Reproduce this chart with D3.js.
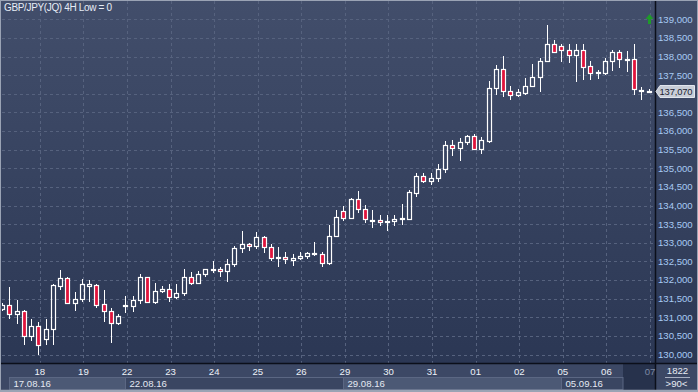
<!DOCTYPE html>
<html><head><meta charset="utf-8">
<script src="https://cdn.jsdelivr.net/npm/d3@7"></script>
<style>
html,body{margin:0;padding:0;background:#3a4662;overflow:hidden}
svg{display:block}
text{font-family:Arial,"Liberation Sans",sans-serif}
</style>
</head><body>
<svg id="c" width="698" height="392"></svg>
<script>
const title = "GBP/JPY(JQ) 4H Low = 0";
const opens = [131.216,131.323,131.100,131.162,130.498,130.759,130.423,130.697,131.842,132.041,
131.385,131.503,131.842,131.861,131.369,131.170,130.848,131.302,131.304,131.476,
132.068,131.412,131.708,131.772,131.546,131.638,132.084,131.922,132.148,132.272,
132.309,132.237,132.417,132.847,132.954,132.909,133.142,132.890,132.586,132.605,
132.532,132.578,132.640,132.694,132.694,132.444,133.191,133.849,133.669,134.163,
133.895,133.594,133.607,133.553,133.580,133.629,133.634,134.341,134.790,134.663,
134.728,134.970,135.622,135.534,135.695,135.864,135.507,135.743,137.146,137.657,
137.081,136.958,137.028,137.208,137.442,137.888,138.328,138.291,138.167,138.033,
138.167,137.745,137.557,137.549,137.888,138.113,137.912,137.925,137.087,137.060];
const highs = [131.377,131.815,131.458,131.189,130.947,130.867,130.947,131.906,132.264,132.084,
131.665,132.022,131.995,131.888,131.726,131.251,131.081,131.565,131.565,132.148,
132.084,131.933,131.834,131.888,131.906,132.309,132.218,132.245,132.291,132.506,
132.352,132.551,132.909,133.312,132.981,133.277,133.177,132.954,132.874,132.755,
132.694,132.739,132.739,133.008,132.755,133.473,133.876,133.983,134.190,134.386,
134.010,133.876,133.742,133.742,133.742,134.037,134.413,134.878,134.862,134.878,
135.112,135.730,135.757,135.802,135.891,135.918,135.846,137.342,137.772,138.014,
137.208,137.119,137.415,137.791,137.952,138.847,138.444,138.336,138.336,138.336,
138.328,137.880,137.638,137.952,138.175,138.175,138.148,138.336,137.189,137.119];
const lows = [131.162,130.947,130.832,130.262,130.375,129.999,130.267,130.267,131.726,131.369,
131.170,131.412,131.412,131.251,130.875,130.321,130.786,131.116,131.143,131.369,
131.385,131.369,131.638,131.412,131.484,131.565,131.853,131.880,132.068,132.191,
132.084,131.949,132.352,132.729,132.782,132.820,132.729,132.514,132.352,132.425,
132.379,132.532,132.551,132.640,132.352,132.398,133.177,133.588,133.653,133.787,
133.518,133.400,133.446,133.320,133.446,133.473,133.607,134.233,134.610,134.548,
134.636,134.878,135.327,135.201,135.622,135.488,135.373,135.668,136.966,136.904,
136.832,136.904,136.966,137.189,137.055,137.870,138.086,137.861,137.834,137.323,
137.369,137.369,137.396,137.503,137.619,137.683,137.592,136.966,136.832,137.020];
const closes = [131.323,131.100,131.162,130.498,130.759,130.267,130.697,131.861,132.041,131.385,
131.503,131.880,131.880,131.342,131.170,130.848,131.028,131.329,131.476,132.068,
131.412,131.708,131.772,131.546,131.638,132.084,131.922,132.148,132.283,132.299,
132.237,132.417,132.847,132.954,132.909,133.142,132.890,132.594,132.613,132.551,
132.578,132.640,132.712,132.720,132.444,133.191,133.696,133.669,134.163,133.895,
133.626,133.621,133.545,133.580,133.634,133.656,134.368,134.790,134.655,134.728,
134.970,135.622,135.534,135.695,135.864,135.507,135.757,137.146,137.657,137.081,
136.958,137.039,137.208,137.442,137.888,138.328,138.113,138.167,138.033,138.167,
137.710,137.549,137.584,137.888,138.113,137.925,137.939,137.119,137.106,137.070];
const dayLabels = ["18","19","22","23","24","25","26","29","30","31","01","02","05","06","07"];
const dayStartIdx = [5,11,17,23,29,35,41,47,53,59,65,71,77,83,89];
const weekLabels = ["17.08.16","22.08.16","29.08.16","05.09.16"];
const weekStartIdx = [1,17,47,77];
const priceTicks = [130,130.5,131,131.5,132,132.5,133,133.5,134,134.5,135,135.5,136,136.5,137,137.5,138,138.5,139];
const lastPrice = 137.070;
const infoTop = "1822", infoBottom = ">90<";

const data = opens.map((o,i)=>({i, o, h:highs[i], l:lows[i], c:closes[i]}));
const svg = d3.select("#c");
const W=698, H=392, plotR=655, plotB=363;
const fmt = v => v.toFixed(3).replace(".", ",");

const x = d3.scaleLinear().domain([0,89]).range([2,648.5]);
const y = d3.scaleLinear().domain([130,139]).range([354.5,19.3]);

const defs = svg.append("defs");
const g = defs.append("linearGradient").attr("id","bg").attr("x1",0).attr("y1",0).attr("x2",0).attr("y2",1);
g.append("stop").attr("offset","0%").attr("stop-color","#424e6b");
g.append("stop").attr("offset","100%").attr("stop-color","#2b3754");
defs.append("clipPath").attr("id","clip").append("rect").attr("x",2).attr("y",1).attr("width",plotR-2).attr("height",plotB-1);

svg.append("rect").attr("x",0).attr("y",0).attr("width",W).attr("height",plotB).attr("fill","url(#bg)");

// grid
const grid = svg.append("g").attr("clip-path","url(#clip)").attr("stroke","#56627e").attr("stroke-dasharray","3,3").attr("stroke-width",1);
grid.selectAll("line.h").data(priceTicks).join("line")
  .attr("x1",2).attr("x2",plotR).attr("y1",d=>Math.round(y(d))+0.5).attr("y2",d=>Math.round(y(d))+0.5);
grid.selectAll("line.v").data(dayStartIdx).join("line")
  .attr("y1",1).attr("y2",plotB).attr("x1",d=>Math.round(x(d)+1.5)+0.5).attr("x2",d=>Math.round(x(d)+1.5)+0.5);

// candles
const cg = svg.append("g").attr("clip-path","url(#clip)");
data.forEach(d=>{
  const c = Math.round(x(d.i));
  const top = Math.round(y(Math.max(d.o,d.c)));
  let bot = Math.round(y(Math.min(d.o,d.c)));
  if (bot-top < 1) bot = top+1;
  const yh = Math.round(y(d.h)), yl = Math.round(y(d.l));
  const bull = d.c >= d.o;
  if (yh < top) cg.append("line").attr("x1",c+0.5).attr("x2",c+0.5).attr("y1",yh).attr("y2",top).attr("stroke","#fff");
  if (yl > bot) cg.append("line").attr("x1",c+0.5).attr("x2",c+0.5).attr("y1",bot).attr("y2",yl).attr("stroke","#fff");
  cg.append("rect").attr("x",c-1.5).attr("y",top+0.5).attr("width",4).attr("height",bot-top)
    .attr("fill", bull ? "none" : "#e0143c").attr("stroke","#fff").attr("stroke-width",1.2);
});

// right axis labels
const ly = y(lastPrice);
svg.append("g").selectAll("text").data(priceTicks.filter(v=>Math.abs(y(v)-ly)>9)).join("text")
  .attr("x",658).attr("y",d=>y(d)).attr("dy","0.35em")
  .attr("font-size","9.6px").attr("fill","#a8caf4").text(fmt);

// black separators
svg.append("line").attr("x1",plotR+0.5).attr("x2",plotR+0.5).attr("y1",0).attr("y2",390).attr("stroke","#0b0f1a").attr("stroke-width",1.5);

// bottom strip
svg.append("rect").attr("x",0).attr("y",plotB).attr("width",W).attr("height",H-plotB).attr("fill","#3c4865");
svg.append("rect").attr("x",Math.round(x(89))-26).attr("y",plotB+1).attr("width",plotR-(Math.round(x(89))-26)).attr("height",26).attr("fill","#27324c");
svg.append("line").attr("x1",0).attr("x2",W).attr("y1",plotB+0.5).attr("y2",plotB+0.5).attr("stroke","#0b0f1a").attr("stroke-width",1.6);
svg.append("line").attr("x1",plotR+0.5).attr("x2",plotR+0.5).attr("y1",plotB).attr("y2",390).attr("stroke","#0b0f1a").attr("stroke-width",1.5);

svg.append("g").selectAll("text").data(dayLabels).join("text")
  .attr("x",(d,k)=>x(dayStartIdx[k])+1.5).attr("y",375).attr("text-anchor","middle")
  .attr("font-size","9.6px").attr("fill",(d,k)=>k===dayLabels.length-1?"#7d8aa5":"#eef2f8").text(d=>d);

const wEnd = Math.round(x(89))-26;
const wg = svg.append("g");
weekLabels.forEach((lab,k)=>{
  const x0 = Math.round(x(weekStartIdx[k]))+0.5;
  const x1 = k<weekLabels.length-1 ? Math.round(x(weekStartIdx[k+1]))+0.5 : wEnd;
  wg.append("rect").attr("x",x0).attr("y",377.5).attr("width",x1-x0).attr("height",12)
    .attr("fill", k%2===0 ? "#4c5975" : "#3a4662").attr("stroke","#5b6783").attr("stroke-width",1);
  wg.append("text").attr("x",x0+4).attr("y",387).attr("font-size","9.6px").attr("fill","#e4e9f2").text(lab);
});

// info box bottom right
svg.append("text").attr("x",677.5).attr("y",374).attr("text-anchor","middle").attr("font-size","9.6px").attr("fill","#e8ecf4").text(infoTop);
svg.append("line").attr("x1",665).attr("x2",690).attr("y1",377.5).attr("y2",377.5).attr("stroke","#a9b1c3");
svg.append("text").attr("x",676.5).attr("y",387).attr("text-anchor","middle").attr("font-size","9.6px").attr("fill","#e8ecf4").text(infoBottom);

// last price label
const py = Math.round(ly)+0.5;
svg.append("path").attr("d",`M656,${py} L660,${py-6} L694.5,${py-6} L694.5,${py+6} L660,${py+6} Z`)
  .attr("fill","#c8cdd7").attr("stroke","#e2e6ee").attr("stroke-width",1);
svg.append("text").attr("x",659.5).attr("y",py).attr("dy","0.35em").attr("font-size","9.4px").attr("letter-spacing","-0.15px").attr("fill","#1a2131").text(fmt(lastPrice));

// green arrow
const ax = Math.round(x(89))+0.5;
svg.append("path").attr("d",`M${ax},14 L${ax+4},19 L${ax+1.5},19 L${ax+1.5},24 L${ax-1.5},24 L${ax-1.5},19 L${ax-4},19 Z`).attr("fill","#1f9a2a");

// title
svg.append("text").attr("x",4).attr("y",11).attr("font-size","10px").attr("letter-spacing","-0.35px").attr("fill","#e6ecf6").text(title);

// outer frame
svg.append("rect").attr("x",0.5).attr("y",0.5).attr("width",W-1).attr("height",H-1).attr("fill","none").attr("stroke","#9aa3b4").attr("stroke-width",1);
svg.append("line").attr("x1",0).attr("x2",W).attr("y1",390.5).attr("y2",390.5).attr("stroke","#9aa3b4").attr("stroke-width",1.5);
</script>
</body></html>
